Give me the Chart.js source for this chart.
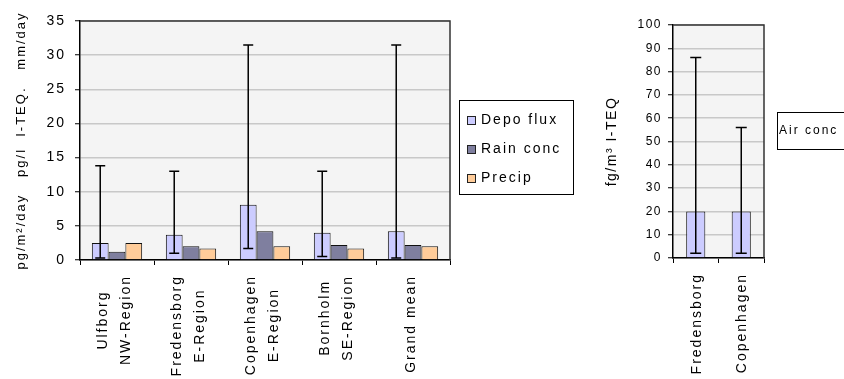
<!DOCTYPE html>
<html>
<head>
<meta charset="utf-8">
<script src="https://cdn.jsdelivr.net/npm/chart.js@4.4.0/dist/chart.umd.min.js"></script>
<style>
  html, body { margin: 0; padding: 0; background: #fff; }
  #left { position: absolute; left: 0; top: 0; }
  #right { position: absolute; left: 580px; top: 0; }
</style>
</head>
<body>
<canvas id="left" width="600" height="379"></canvas>
<canvas id="right" width="264" height="379"></canvas>
<script>
// deposition chart
const categories = [['Ulfborg', 'NW-Region'], ['Fredensborg', 'E-Region'], ['Copenhagen', 'E-Region'], ['Bornholm', 'SE-Region'], ['Grand mean']];
const depoFlux = [2.5, 3.7, 8.1, 4.0, 4.2];
const rainConc = [1.2, 2.0, 4.2, 2.2, 2.2];
const precip = [2.5, 1.7, 2.0, 1.7, 2.0];
const depoLow = [0.3, 1.0, 1.7, 0.5, 0.3];
const depoHigh = [13.8, 13.0, 31.5, 13.0, 31.5];

// air chart
const airCategories = ['Fredensborg', 'Copenhagen'];
const airConc = [20, 20];
const airLow = [2, 2];
const airHigh = [86, 56];

const FONT = "'Liberation Sans', Arial, sans-serif";

const letterSpacing = {
  id: 'letterSpacing',
  beforeLayout(chart, args, opts) { chart.ctx.letterSpacing = opts.px; },
  beforeDraw(chart, args, opts) { chart.ctx.letterSpacing = opts.px; }
};

const plotFrame = {
  id: 'plotFrame',
  beforeDraw(chart) {
    const { ctx, chartArea: a } = chart;
    ctx.save();
    ctx.fillStyle = '#f4f4f4';
    ctx.fillRect(a.left, a.top, a.width, a.height);
    ctx.restore();
  },
  afterDraw(chart) {
    const { ctx, chartArea: a } = chart;
    ctx.save();
    ctx.strokeStyle = '#333';
    ctx.lineWidth = 1.5;
    ctx.beginPath();
    ctx.moveTo(a.left, a.top);
    ctx.lineTo(a.right, a.top);
    ctx.lineTo(a.right, a.bottom);
    ctx.stroke();
    ctx.restore();
  }
};

const errorBars = {
  id: 'errorBars',
  afterDatasetsDraw(chart, args, opts) {
    const meta = chart.getDatasetMeta(0);
    const y = chart.scales.y;
    const ctx = chart.ctx;
    const c = opts.cap / 2;
    ctx.save();
    ctx.strokeStyle = '#000';
    ctx.lineWidth = 1.5;
    meta.data.forEach((bar, i) => {
      const yl = y.getPixelForValue(opts.low[i]);
      const yh = y.getPixelForValue(opts.high[i]);
      ctx.beginPath();
      ctx.moveTo(bar.x, yl); ctx.lineTo(bar.x, yh);
      ctx.moveTo(bar.x - c, yl); ctx.lineTo(bar.x + c, yl);
      ctx.moveTo(bar.x - c, yh); ctx.lineTo(bar.x + c, yh);
      ctx.stroke();
    });
    ctx.restore();
  }
};

// rotated category labels, lines centred on each other like Excel does
const catLabels = {
  id: 'catLabels',
  afterDraw(chart, args, opts) {
    const { ctx } = chart;
    const x = chart.scales.x;
    ctx.save();
    ctx.font = opts.size + 'px ' + FONT;
    ctx.letterSpacing = opts.spacing;
    ctx.fillStyle = '#000';
    ctx.textAlign = 'center';
    ctx.textBaseline = 'middle';
    chart.data.labels.forEach((lab, i) => {
      const lines = [].concat(lab);
      const px = x.getPixelForValue(i);
      const maxW = Math.max(...lines.map(l => ctx.measureText(l).width));
      const cy = opts.top + maxW / 2;
      lines.forEach((line, j) => {
        const lx = px + opts.shift + (j - (lines.length - 1) / 2) * opts.lineGap;
        ctx.save();
        ctx.translate(lx, cy);
        ctx.rotate(-Math.PI / 2);
        ctx.fillText(line, 0, 0);
        ctx.restore();
      });
    });
    ctx.restore();
  }
};

// Excel style boxed legend
const boxLegend = {
  id: 'boxLegend',
  afterDraw(chart, args, opts) {
    const { ctx } = chart;
    const b = opts.box;
    ctx.save();
    ctx.fillStyle = '#fff';
    ctx.fillRect(b.x, b.y, b.w, b.h);
    ctx.strokeStyle = '#000';
    ctx.lineWidth = 1;
    ctx.strokeRect(b.x + 0.5, b.y + 0.5, b.w, b.h);
    ctx.font = opts.size + 'px ' + FONT;
    ctx.letterSpacing = opts.spacing;
    ctx.textBaseline = 'middle';
    opts.items.forEach((it, i) => {
      const cy = opts.firstY + i * opts.gap;
      if (it.color) {
        ctx.fillStyle = it.color;
        ctx.fillRect(opts.swatchX, cy - 4, 8, 8);
        ctx.strokeStyle = '#222';
        ctx.strokeRect(opts.swatchX + 0.5, cy - 3.5, 8, 8);
      }
      ctx.fillStyle = '#000';
      ctx.fillText(it.text, opts.textX, cy);
    });
    ctx.restore();
  }
};

const barStyle = (label, data, color) => ({
  label, data,
  backgroundColor: color,
  borderColor: '#111',
  borderWidth: 1,
  barPercentage: 1,
});

new Chart(document.getElementById('left'), {
  type: 'bar',
  data: {
    labels: categories,
    datasets: [
      { ...barStyle('Depo flux', depoFlux, '#ccccff'), categoryPercentage: 0.68 },
      { ...barStyle('Rain conc', rainConc, '#7f7f9f'), categoryPercentage: 0.68 },
      { ...barStyle('Precip', precip, '#ffcc99'), categoryPercentage: 0.68 },
    ]
  },
  options: {
    responsive: false,
    animation: false,
    layout: { padding: { left: 10, top: 21, right: 150, bottom: 0 } },
    scales: {
      x: {
        ticks: { display: false },
        grid: { drawOnChartArea: false, offset: true, color: '#000', tickColor: '#000', tickLength: 5 },
        border: { color: '#000', width: 1.5 },
        afterFit(s) { s.height = 119; }
      },
      y: {
        min: 0, max: 35,
        ticks: { stepSize: 5, padding: 9, color: '#000', font: { family: FONT, size: 14 } },
        grid: { color: '#c8c8c8', lineWidth: 1.5, tickColor: '#000', tickLength: 5, tickWidth: 1 },
        border: { color: '#000', width: 1.5 },
        title: { display: true, text: 'pg/m²/day   pg/l  I-TEQ.   mm/day', color: '#000', font: { family: FONT, size: 13 } },
        afterFit(s) { s.width = 70; }
      }
    },
    plugins: {
      legend: { display: false },
      tooltip: { enabled: false },
      letterSpacing: { px: '2px' },
      errorBars: { low: depoLow, high: depoHigh, cap: 10 },
      catLabels: { size: 14, spacing: '2px', top: 275, lineGap: 23, shift: -2 },
      boxLegend: {
        box: { x: 459, y: 100, w: 114, h: 94 },
        size: 14, spacing: '2px', swatchX: 467, textX: 481, firstY: 120, gap: 29,
        items: [
          { text: 'Depo flux', color: '#ccccff' },
          { text: 'Rain conc', color: '#7f7f9f' },
          { text: 'Precip', color: '#ffcc99' },
        ]
      }
    }
  },
  plugins: [letterSpacing, plotFrame, errorBars, catLabels, boxLegend]
});

new Chart(document.getElementById('right'), {
  type: 'bar',
  data: {
    labels: airCategories,
    datasets: [
      { ...barStyle('Air conc', airConc, '#ccccff'), categoryPercentage: 0.42 },
    ]
  },
  options: {
    responsive: false,
    animation: false,
    layout: { padding: { left: 20, top: 25, right: 80, bottom: 0 } },
    scales: {
      x: {
        ticks: { display: false },
        grid: { drawOnChartArea: false, offset: true, color: '#000', tickColor: '#000', tickLength: 5 },
        border: { color: '#000', width: 1.5 },
        afterFit(s) { s.height = 121; }
      },
      y: {
        min: 0, max: 100,
        ticks: { stepSize: 10, padding: 6, color: '#000', font: { family: FONT, size: 12 } },
        grid: { color: '#c8c8c8', lineWidth: 1.5, tickColor: '#000', tickLength: 5, tickWidth: 1 },
        border: { color: '#000', width: 1.5 },
        title: { display: true, text: 'fg/m³ I-TEQ', color: '#000', font: { family: FONT, size: 14 } },
        afterFit(s) { s.width = 73; }
      }
    },
    plugins: {
      legend: { display: false },
      tooltip: { enabled: false },
      letterSpacing: { px: '1.5px' },
      errorBars: { low: airLow, high: airHigh, cap: 11 },
      catLabels: { size: 14, spacing: '2px', top: 273, lineGap: 23, shift: 1 },
      boxLegend: {
        box: { x: 197, y: 112, w: 80, h: 37 },
        size: 12, spacing: '2px', swatchX: 0, textX: 199, firstY: 131, gap: 0,
        items: [{ text: 'Air conc' }]
      }
    }
  },
  plugins: [letterSpacing, plotFrame, errorBars, catLabels, boxLegend]
});
</script>
</body>
</html>
